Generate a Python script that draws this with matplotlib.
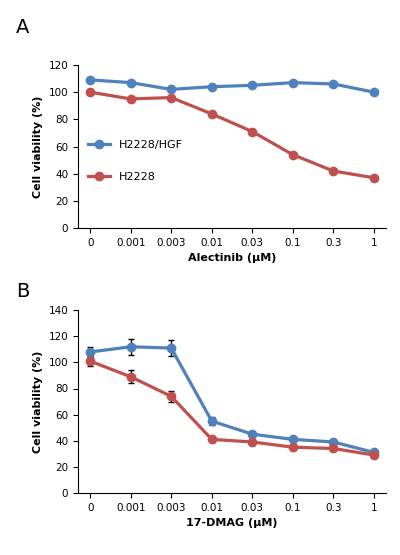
import matplotlib
matplotlib.use("Agg")
import matplotlib.pyplot as plt

xlabels = ["0", "0.001", "0.003", "0.01", "0.03", "0.1", "0.3", "1"]
a_hgf = [109, 107, 102, 104, 105, 107, 106, 100]
a_h = [100, 95, 96, 84, 71, 54, 42, 37]
b_hgf = [108, 112, 111, 55, 45, 41, 39, 31]
b_hgf_err = [4, 6, 6, 3, 2, 2, 2, 2]
b_h = [101, 89, 74, 41, 39, 35, 34, 29]
b_h_err = [4, 5, 4, 2, 2, 2, 2, 2]

blue = "#4F81BD"
red = "#C0504D"
fig = plt.figure(figsize=(4, 5.55), dpi=100)
x = list(range(len(xlabels)))

def style(ax, ymax, xl):
    ax.set_xlim(-0.3, 7.3)
    ax.set_ylim(0, ymax)
    ax.set_yticks(range(0, ymax + 1, 20))
    ax.set_xticks(x)
    ax.set_xticklabels(xlabels)
    ax.tick_params(labelsize=7.5)
    ax.set_ylabel("Cell viability (%)", fontsize=8, fontweight="bold")
    ax.set_xlabel(xl, fontsize=8, fontweight="bold")
    for s in ["top", "right"]:
        ax.spines[s].set_visible(False)

ax1 = fig.add_axes([0.195, 0.589, 0.77, 0.294])
ax1.plot(x, a_hgf, "-o", color=blue, lw=2.3, ms=6, label="H2228/HGF")
ax1.plot(x, a_h, "-o", color=red, lw=2.3, ms=6, label="H2228")
style(ax1, 120, "Alectinib (\u00b5M)")
ax1.legend(loc="lower left", bbox_to_anchor=(0.0, 0.22), frameon=False, fontsize=8, labelspacing=2.0)
fig.text(0.04, 0.94, "A", fontsize=14)

ax2 = fig.add_axes([0.195, 0.112, 0.77, 0.329])
ax2.errorbar(x, b_hgf, yerr=b_hgf_err, fmt="-o", color=blue, lw=2.3, ms=6, ecolor="black", capsize=2, elinewidth=1)
ax2.errorbar(x, b_h, yerr=b_h_err, fmt="-o", color=red, lw=2.3, ms=6, ecolor="black", capsize=2, elinewidth=1)
style(ax2, 140, "17-DMAG (\u00b5M)")
fig.text(0.04, 0.465, "B", fontsize=14)

fig.savefig("out.png", dpi=100)
